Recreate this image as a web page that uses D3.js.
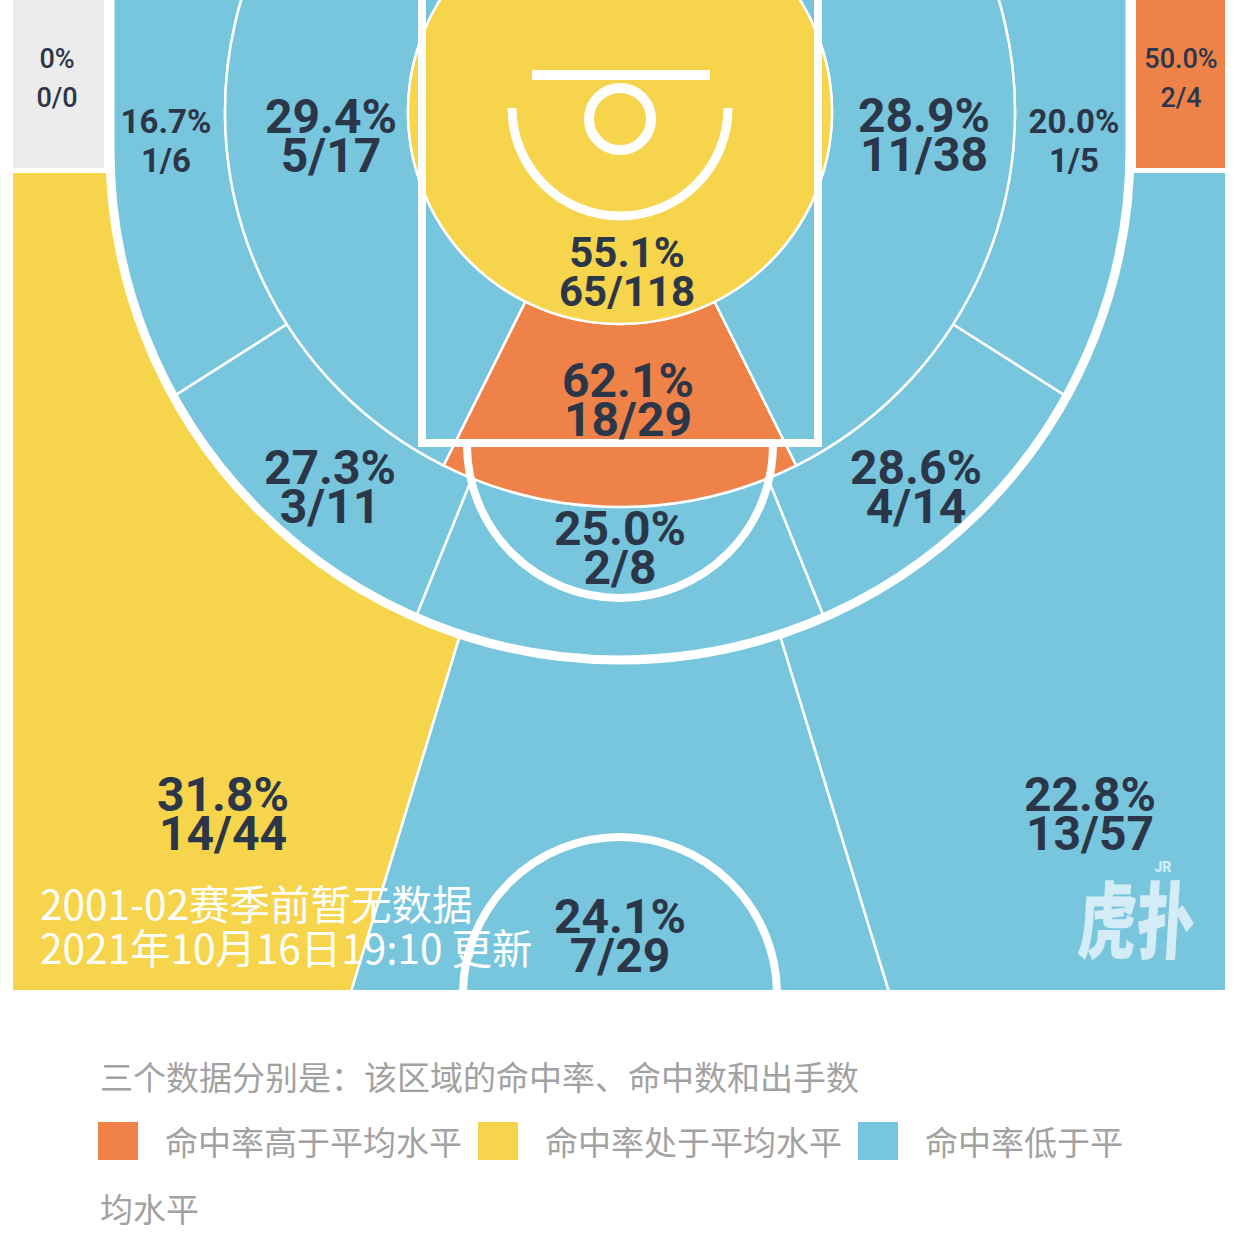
<!DOCTYPE html>
<html>
<head>
<meta charset="utf-8">
<script src="https://cdn.jsdelivr.net/npm/d3@7"></script>
<style>
  html, body { margin: 0; padding: 0; background: #ffffff; }
  svg { display: block; }
</style>
</head>
<body>
<svg id="chart" width="1236" height="1250"></svg>
<script>
// ---------------- DATA ----------------
const zoneNames = ["左侧底角三分", "左侧45度三分", "正面三分", "右侧45度三分", "右侧底角三分",
  "左侧底线中投", "左侧45度中投", "正面中投", "右侧45度中投", "右侧底线中投",
  "油漆区左侧", "油漆区正面", "油漆区右侧", "篮下"];
const made     = [0, 14, 7, 13, 2, 1, 3, 2, 4, 1, 5, 18, 11, 65];
const attempts = [0, 44, 29, 57, 4, 6, 11, 8, 14, 5, 17, 29, 38, 118];
const levels   = ["none", "avg", "low", "low", "high", "low", "low", "low", "low", "low", "low", "high", "low", "avg"];
const levelKeys = ["high", "avg", "low"];
const legendLabels = ["命中率高于平均水平", "命中率处于平均水平", "命中率低于平均水平"];
const noteText = "三个数据分别是：该区域的命中率、命中数和出手数";
const footLines = ["2001-02赛季前暂无数据", "2021年10月16日19:10 更新"];

// ---------------- LAYOUT (court design units) ----------------
const COURT = { w: 1212, h: 990, cx: 607 };
const ZC = { cy: 112, rRim: 212, rPaint: 395, far: 3000 };
const THREE = { cy: 150, r: 510, xl: 97, xr: 1117, wingTop: 173 };
// zone shapes, same order as the data arrays (angles: degrees, d3 convention, 180 = straight down)
const zoneShapes = [
  { type: "rect", x0: 0, x1: 91, y0: 0, y1: 168 },
  { type: "sector", r0: 0, r1: ZC.far, a0: 197, a1: 360, clip: "wing" },
  { type: "sector", r0: 0, r1: ZC.far, a0: 163, a1: 197, clip: "wing" },
  { type: "sector", r0: 0, r1: ZC.far, a0: 0, a1: 163, clip: "wing" },
  { type: "rect", x0: 1123, x1: 1212, y0: 0, y1: 168 },
  { type: "sector", r0: ZC.rPaint, r1: ZC.far, a0: 237.5, a1: 360, clip: "inside" },
  { type: "sector", r0: ZC.rPaint, r1: ZC.far, a0: 202, a1: 237.5, clip: "inside" },
  { type: "sector", r0: ZC.rPaint, r1: ZC.far, a0: 158, a1: 202, clip: "inside" },
  { type: "sector", r0: ZC.rPaint, r1: ZC.far, a0: 122.5, a1: 158, clip: "inside" },
  { type: "sector", r0: ZC.rPaint, r1: ZC.far, a0: 0, a1: 122.5, clip: "inside" },
  { type: "sector", r0: ZC.rRim, r1: ZC.rPaint, a0: 206.5, a1: 360, clip: "court" },
  { type: "sector", r0: ZC.rRim, r1: ZC.rPaint, a0: 153.5, a1: 206.5, clip: "court" },
  { type: "sector", r0: ZC.rRim, r1: ZC.rPaint, a0: 0, a1: 153.5, clip: "court" },
  { type: "sector", r0: 0, r1: ZC.rRim, a0: 0, a1: 360, clip: "court" }
];
// label anchor (first baseline) and font size per zone
const labelPos = [[44, 68], [210, 811], [607, 933], [1077, 811], [1168, 68],
  [153, 133], [317, 484], [607, 545], [903, 484], [1061, 133],
  [318, 133], [615, 397], [911, 132], [614, 267]];
const labelSize = [27, 48, 48, 48, 27, 33, 48, 48, 48, 33, 48, 48, 48, 42];

// ---------------- SCALES ----------------
const sx = d3.scaleLinear().domain([0, COURT.w]).range([13, 1225]);
const sy = d3.scaleLinear().domain([0, COURT.h]).range([0, 990]);
const k = sx(1) - sx(0);
const color = d3.scaleOrdinal().domain(["high", "avg", "low", "none"])
  .range(["#ee8249", "#f6d44b", "#78c6de", "#ececec"]);
const rad = d => d * Math.PI / 180;
const pctFmt = d3.format(".1f");

const svg = d3.select("#chart");
const defs = svg.append("defs");

defs.append("clipPath").attr("id", "clip-court").append("rect")
  .attr("x", sx(0)).attr("y", sy(0))
  .attr("width", sx(COURT.w) - sx(0)).attr("height", sy(COURT.h) - sy(0));
defs.append("clipPath").attr("id", "clip-wing").append("rect")
  .attr("x", sx(0)).attr("y", sy(THREE.wingTop))
  .attr("width", sx(COURT.w) - sx(0)).attr("height", sy(COURT.h) - sy(THREE.wingTop));

function threeLine(close) {
  const p = d3.path();
  p.moveTo(sx(THREE.xl), sy(-20));
  p.lineTo(sx(THREE.xl), sy(THREE.cy));
  p.arc(sx(COURT.cx), sy(THREE.cy), THREE.r * k, Math.PI, 0, true);
  p.lineTo(sx(THREE.xr), sy(-20));
  if (close) p.closePath();
  return p.toString();
}
defs.append("clipPath").attr("id", "clip-inside").append("path").attr("d", threeLine(true));

// ---------------- ZONES ----------------
const arcGen = d3.arc();
const zonesG = svg.append("g").attr("clip-path", "url(#clip-court)");
zoneShapes.forEach((s, i) => {
  const g = zonesG.append("g").attr("clip-path", s.clip ? `url(#clip-${s.clip})` : null);
  if (s.type === "rect") {
    g.append("rect")
      .attr("x", sx(s.x0)).attr("y", sy(s.y0))
      .attr("width", sx(s.x1) - sx(s.x0)).attr("height", sy(s.y1) - sy(s.y0))
      .attr("fill", color(levels[i]));
  } else {
    g.append("path")
      .attr("d", arcGen({ innerRadius: s.r0 * k, outerRadius: s.r1 * k, startAngle: rad(s.a0), endAngle: rad(s.a1) }))
      .attr("transform", `translate(${sx(COURT.cx)},${sy(ZC.cy)})`)
      .attr("fill", color(levels[i]))
      .attr("stroke", "#ffffff").attr("stroke-width", 2.5);
  }
});

// ---------------- COURT LINES ----------------
const lines = svg.append("g").attr("clip-path", "url(#clip-court)")
  .attr("fill", "none").attr("stroke", "#ffffff");
// lane
lines.append("rect").attr("x", sx(409)).attr("y", sy(-20))
  .attr("width", sx(805) - sx(409)).attr("height", sy(443) - sy(-20)).attr("stroke-width", 8);
// free throw semicircle
lines.append("path").attr("d", (() => { const p = d3.path();
  p.arc(sx(607), sy(445), 153 * k, Math.PI, 0, true); return p.toString(); })()).attr("stroke-width", 8);
// restricted area arc
lines.append("path").attr("d", (() => { const p = d3.path();
  p.arc(sx(607), sy(108), 108 * k, Math.PI, 0, true); return p.toString(); })()).attr("stroke-width", 9);
// backboard
lines.append("line").attr("x1", sx(519)).attr("x2", sx(697)).attr("y1", sy(75)).attr("y2", sy(75)).attr("stroke-width", 10);
// hoop
lines.append("circle").attr("cx", sx(607)).attr("cy", sy(119)).attr("r", 31 * k).attr("stroke-width", 10);
// three point line
lines.append("path").attr("d", threeLine(false)).attr("stroke-width", 9);
// centre circle
lines.append("circle").attr("cx", sx(607)).attr("cy", sy(994)).attr("r", 157 * k).attr("stroke-width", 8);

// ---------------- LABELS ----------------
const labelsG = svg.append("g").attr("font-family", "Roboto, 'DejaVu Sans', sans-serif")
  .attr("fill", "#2b3648").attr("text-anchor", "middle");
zoneNames.forEach((name, i) => {
  const pct = attempts[i] === 0 ? "0%" : pctFmt(made[i] / attempts[i] * 100) + "%";
  const t = labelsG.append("text")
    .attr("x", sx(labelPos[i][0])).attr("y", sy(labelPos[i][1]))
    .attr("font-size", labelSize[i])
    .attr("font-weight", labelSize[i] < 30 ? 500 : 700);
  t.append("tspan").attr("x", sx(labelPos[i][0])).text(pct);
  t.append("tspan").attr("x", sx(labelPos[i][0])).attr("dy", 39).text(`${made[i]}/${attempts[i]}`);
});

// ---------------- FOOTNOTE & WATERMARK ----------------
const foot = svg.append("g").attr("font-family", "'Noto Sans CJK SC', sans-serif")
  .attr("fill", "#ffffff").attr("font-size", 40.5).attr("font-weight", 400);
footLines.forEach((s, i) => foot.append("text").attr("x", 40).attr("y", 920 + i * 44).text(s));

const logo = svg.append("g").attr("fill", "#dcf0f7").attr("opacity", 0.92);
logo.append("text").attr("text-anchor", "middle")
  .attr("font-family", "'Noto Sans CJK SC', sans-serif").attr("font-weight", 900)
  .attr("font-size", 84).attr("transform", "translate(1135,952) scale(0.7,1) skewX(-5)").text("虎扑");
logo.append("text").attr("x", 1163).attr("y", 872).attr("text-anchor", "middle")
  .attr("font-family", "Roboto, sans-serif").attr("font-weight", 900)
  .attr("font-size", 14).text("JR");

// ---------------- LEGEND ----------------
const legend = svg.append("g").attr("font-family", "'Noto Sans CJK SC', sans-serif")
  .attr("fill", "#a2a2a2").attr("font-size", 33);
legend.append("text").attr("x", 100).attr("y", 1090).text(noteText);
const maxX = 1136, fs = 33;
levelKeys.forEach((key, i) => {
  const x0 = 98 + i * 380;
  legend.append("rect").attr("x", x0).attr("y", 1122).attr("width", 40).attr("height", 38)
    .attr("fill", color(key));
  const tx = x0 + 67;
  const fit = Math.floor((maxX - tx) / fs);
  const label = legendLabels[i];
  legend.append("text").attr("x", tx).attr("y", 1155).text(label.slice(0, fit));
  if (label.length > fit) {
    legend.append("text").attr("x", 100).attr("y", 1222).text(label.slice(fit));
  }
});
</script>
</body>
</html>
